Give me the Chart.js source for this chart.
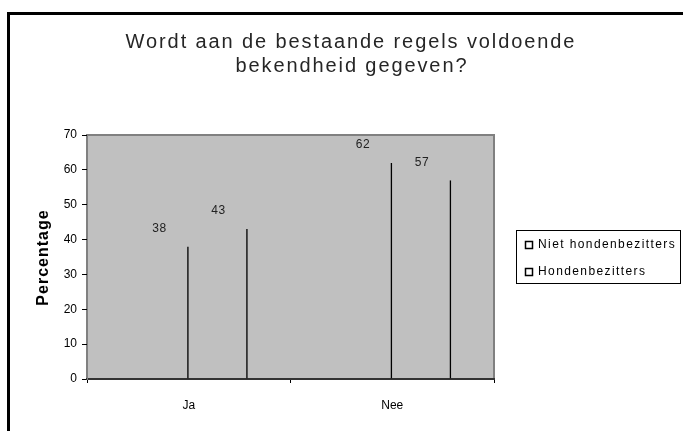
<!DOCTYPE html>
<html>
<head>
<meta charset="utf-8">
<script src="https://cdn.jsdelivr.net/npm/chart.js@4"></script>
<style>
html, body { margin: 0; padding: 0; background: #fff; }
</style>
</head>
<body>
<canvas id="chart_content" width="683" height="431"></canvas>
<script>
// data (percentages)
const categories = ["Ja", "Nee"];
const seriesNames = ["Niet hondenbezitters", "Hondenbezitters"];
const nietHondenbezitters = [38, 62];
const hondenbezitters = [43, 57];
const titleLines = ["Wordt aan de bestaande regels voldoende", "bekendheid gegeven?"];
const yTitle = "Percentage";
const yMin = 0, yMax = 70, yStep = 10;

var canvasElement = document.getElementById("chart_content");
var FONT = "'Liberation Sans', Arial, sans-serif";

function spacedText(ctx, text, x, y, spacing, align) {
	ctx.letterSpacing = spacing + "px";
	var w = ctx.measureText(text).width - spacing;
	var left = align === "center" ? x - w / 2 : x;
	ctx.textAlign = "left";
	ctx.fillText(text, left, y);
	ctx.letterSpacing = "0px";
}

var decor = {
	id: "decor",
	beforeDraw: function(chart) {
		var ctx = chart.ctx, a = chart.chartArea;
		ctx.save();
		ctx.fillStyle = "#fff";
		ctx.fillRect(0, 0, chart.width, chart.height);
		// outer frame (left and top only visible)
		ctx.fillStyle = "#000";
		ctx.fillRect(7, 12, 3, chart.height - 12);
		ctx.fillRect(7, 12, chart.width - 7, 3);
		// plot area
		ctx.fillStyle = "#c0c0c0";
		ctx.fillRect(a.left, a.top, a.right - a.left, a.bottom - a.top);
		ctx.strokeStyle = "#808080";
		ctx.lineWidth = 2;
		ctx.strokeRect(a.left, a.top, a.right - a.left, a.bottom - a.top);
		ctx.restore();
	},
	afterDraw: function(chart) {
		var ctx = chart.ctx;
		ctx.save();
		// title
		ctx.fillStyle = "#262626";
		ctx.font = "20px " + FONT;
		ctx.textBaseline = "alphabetic";
		spacedText(ctx, titleLines[0], 350, 48, 1.9, "center");
		spacedText(ctx, titleLines[1], 351, 72, 1.9, "center");

		// y axis title
		ctx.save();
		ctx.translate(44, 258);
		ctx.rotate(-Math.PI / 2);
		ctx.fillStyle = "#000";
		ctx.font = "bold 16px " + FONT;
		ctx.textBaseline = "middle";
		spacedText(ctx, yTitle, 0, 0, 1, "center");
		ctx.restore();

		// data labels
		ctx.fillStyle = "#222";
		ctx.font = "12px " + FONT;
		ctx.textBaseline = "middle";
		chart.data.datasets.forEach(function(ds, i) {
			chart.getDatasetMeta(i).data.forEach(function(bar, j) {
				spacedText(ctx, String(ds.data[j]), bar.x, bar.y - 18, 0.5, "center");
			});
		});

		// legend
		ctx.strokeStyle = "#000";
		ctx.lineWidth = 1;
		ctx.strokeRect(516.5, 230.5, 164, 53);
		ctx.font = "12px " + FONT;
		seriesNames.forEach(function(name, i) {
			var cy = 245 + i * 27;
			ctx.fillStyle = "#fff";
			ctx.fillRect(525, cy - 4, 8, 8);
			ctx.lineWidth = 1.5;
			ctx.strokeRect(525.5, cy - 3.5, 7, 7);
			ctx.fillStyle = "#000";
			spacedText(ctx, name, 538, cy, 1.4, "left");
		});
		ctx.restore();
	}
};

function barStyle(label, values) {
	return {
		label: label,
		data: values,
		backgroundColor: "rgba(0,0,0,0)",
		borderColor: "#000",
		borderWidth: { top: 0, left: 0, bottom: 0, right: 1.5 },
		borderSkipped: false,
		categoryPercentage: 0.58,
		barPercentage: 1.0
	};
}

var config = {
	type: "bar",
	data: {
		labels: categories,
		datasets: [
			barStyle(seriesNames[0], nietHondenbezitters),
			barStyle(seriesNames[1], hondenbezitters)
		]
	},
	options: {
		responsive: false,
		animation: false,
		devicePixelRatio: 1,
		layout: { padding: { left: 42, top: 135, right: 189, bottom: 22 } },
		plugins: {
			legend: { display: false },
			title: { display: false },
			tooltip: { enabled: false }
		},
		scales: {
			x: {
				grid: { offset: true, drawOnChartArea: false, tickLength: 4, color: "#000" },
				border: { color: "#333", width: 2 },
				ticks: { color: "#000", font: { family: FONT, size: 12 }, padding: 15 },
				afterFit: function(scale) { scale.height = 30; }
			},
			y: {
				min: yMin,
				max: yMax,
				grid: { drawOnChartArea: false, tickLength: 5, color: "#000" },
				border: { color: "#808080", width: 1 },
				ticks: { stepSize: yStep, color: "#000", font: { family: FONT, size: 12 }, padding: 5 },
				afterFit: function(scale) { scale.width = 45; }
			}
		}
	},
	plugins: [decor]
};

var content_chart = new Chart(canvasElement, config);
</script>
</body>
</html>
